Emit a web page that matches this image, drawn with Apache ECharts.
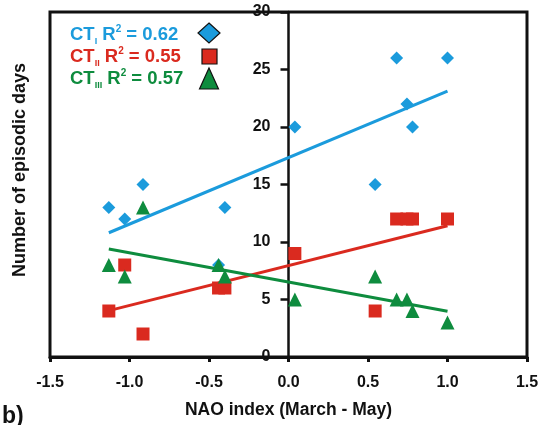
<!DOCTYPE html>
<html>
<head>
<meta charset="utf-8">
<script src="https://cdn.jsdelivr.net/npm/echarts@6/dist/echarts.min.js"></script>
<style>
  html, body { margin: 0; padding: 0; background: #fff; }
  #chart { width: 545px; height: 425px; }
</style>
</head>
<body>
<div id="chart"></div>
<script>
// NAO index (March - May) for each year, and the episodic-day counts per circulation type
const nao = [-1.13, -1.03, -0.915, -0.44, -0.40, 0.04, 0.545, 0.68, 0.745, 0.78, 1.0];
const ctI = [13, 12, 15, 8, 13, 20, 15, 26, 22, 20, 26];
const ctII = [4, 8, 2, 6, 6, 9, 4, 12, 12, 12, 12];
const ctIII = [8, 7, 13, 8, 7, 5, 7, 5, 5, 4, 3];

const typeSubs = ['I', 'II', 'III'];
const r2Labels = ['0.62', '0.55', '0.57'];
const colors = ['#1b9bdc', '#da2a1f', '#0e8c3e'];
const symbols = ['diamond', 'rect', 'triangle'];

const xTicks = { min: -1.5, max: 1.5, step: 0.5 };
const yTicks = { min: 0, max: 30, step: 5 };

const FONT = '"Liberation Sans", Arial, Helvetica, sans-serif';

// plot frame in pixels
const GRID = { left: 50, right: 18, top: 12, bottom: 68 };
const PLOT_W = 545 - GRID.left - GRID.right;
// shift the y axis inward so it sits on NAO = 0
const yAxisOffset = -PLOT_W * (0 - xTicks.min) / (xTicks.max - xTicks.min);

// ordinary least-squares fit, drawn over the observed NAO range
function fitLine(xs, ys) {
  const n = xs.length;
  const mx = xs.reduce((a, b) => a + b, 0) / n;
  const my = ys.reduce((a, b) => a + b, 0) / n;
  let sxy = 0, sxx = 0;
  for (let i = 0; i < n; i++) {
    sxy += (xs[i] - mx) * (ys[i] - my);
    sxx += (xs[i] - mx) * (xs[i] - mx);
  }
  const b = sxy / sxx, a = my - b * mx;
  const x0 = Math.min(...xs), x1 = Math.max(...xs);
  return [[x0, a + b * x0], [x1, a + b * x1]];
}

const groups = [ctI, ctII, ctIII];
const series = [];
groups.forEach((ys, k) => {
  series.push({
    type: 'line',
    data: fitLine(nao, ys),
    symbol: 'none',
    lineStyle: { color: colors[k], width: 3 },
    z: 2,
    silent: true
  });
});
groups.forEach((ys, k) => {
  series.push({
    type: 'scatter',
    data: nao.map((x, i) => [x, ys[i]]),
    symbol: symbols[k],
    symbolSize: k === 2 ? 14 : 13,
    itemStyle: { color: colors[k], opacity: 1 },
    z: 3 + k
  });
});

// legend block: coloured labels with sub/superscripts and outlined marker glyphs
const legendGraphics = [];
typeSubs.forEach((sub, k) => {
  const cy = 35 + k * 22;
  const c = colors[k];
  legendGraphics.push({
    type: 'text',
    left: 70, top: cy - 11,
    style: {
      text: '{m|CT}{s|' + sub + '}{m| R}{p|2}{m| = ' + r2Labels[k] + '}',
      fill: c,
      rich: {
        m: { fontFamily: FONT, fontWeight: 'bold', fontSize: 18.5, fill: c, lineHeight: 22, verticalAlign: 'middle' },
        s: { fontFamily: FONT, fontWeight: 'bold', fontSize: 9, fill: c, lineHeight: 10, verticalAlign: 'bottom' },
        p: { fontFamily: FONT, fontWeight: 'bold', fontSize: 10, fill: c, lineHeight: 8, verticalAlign: 'top' }
      }
    }
  });
});
legendGraphics.push({
  type: 'polygon',
  shape: { points: [[209, 23], [220, 33], [209, 43], [198, 33]] },
  style: { fill: colors[0], stroke: '#111', lineWidth: 1.2 }
});
legendGraphics.push({
  type: 'rect',
  shape: { x: 202, y: 49, width: 15, height: 15 },
  style: { fill: colors[1], stroke: '#111', lineWidth: 1.2 }
});
legendGraphics.push({
  type: 'polygon',
  shape: { points: [[209, 68], [218.5, 89], [199.5, 89]] },
  style: { fill: colors[2], stroke: '#111', lineWidth: 1.2 }
});

const chart = echarts.init(document.getElementById('chart'), null, { renderer: 'canvas' });
chart.setOption({
  backgroundColor: '#fff',
  animation: false,
  grid: Object.assign({}, GRID, {
    show: true, borderColor: '#111', borderWidth: 3, backgroundColor: 'transparent'
  }),
  xAxis: {
    type: 'value',
    min: xTicks.min, max: xTicks.max, interval: xTicks.step,
    name: 'NAO index (March - May)',
    nameLocation: 'middle',
    nameGap: 44,
    nameTextStyle: { fontFamily: FONT, fontWeight: 'bold', fontSize: 17.5, color: '#111' },
    axisLine: { show: true, onZero: false, lineStyle: { color: '#111', width: 3 } },
    axisTick: { show: true, length: 5, lineStyle: { color: '#111', width: 3 } },
    axisLabel: {
      fontFamily: FONT, fontWeight: 'bold', fontSize: 16, color: '#111', margin: 18,
      formatter: v => v.toFixed(1)
    },
    splitLine: { show: false }
  },
  yAxis: {
    type: 'value',
    position: 'left',
    offset: yAxisOffset,
    min: yTicks.min, max: yTicks.max, interval: yTicks.step,
    axisLine: { show: true, onZero: false, lineStyle: { color: '#111', width: 2.5 } },
    axisTick: { show: true, length: 8, lineStyle: { color: '#111', width: 2.5 } },
    axisLabel: { fontFamily: FONT, fontWeight: 'bold', fontSize: 16, color: '#111', margin: 18 },
    splitLine: { show: false }
  },
  graphic: [
    {
      type: 'text',
      x: 20, y: 170,
      rotation: Math.PI / 2,
      style: {
        text: 'Number of episodic days',
        fontFamily: FONT, fontWeight: 'bold', fontSize: 18, fill: '#111',
        align: 'center', verticalAlign: 'middle'
      }
    },
    {
      type: 'text',
      left: 2, top: 405,
      style: { text: 'b)', fontFamily: FONT, fontWeight: 'bold', fontSize: 23, fill: '#111' }
    }
  ].concat(legendGraphics),
  series: series
});
</script>
</body>
</html>
